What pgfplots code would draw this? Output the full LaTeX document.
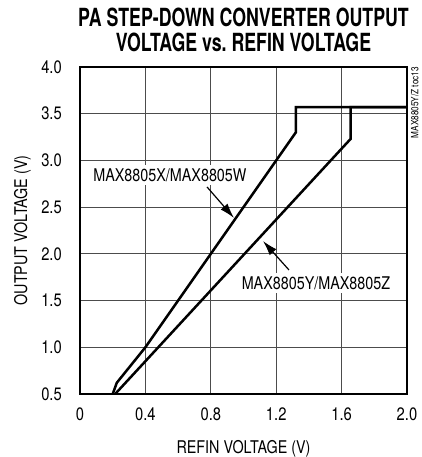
\documentclass[border=0pt]{standalone}
\usepackage{fontspec}
\setmainfont{TeX Gyre Heros}[FakeStretch=0.82]
\newfontfamily\titlefont{TeX Gyre Heros}[FakeStretch=0.71]
\usepackage{pgfplots}
\pgfplotsset{compat=1.18}
\usetikzlibrary{arrows.meta}
\begin{document}
\begin{tikzpicture}
\path[use as bounding box] (-80pt,-63pt) rectangle (342pt,394pt);
\begin{axis}[
  at={(0pt,0pt)}, anchor=south west,
  scale only axis, width=327pt, height=327pt,
  xmin=0, xmax=2, ymin=0.5, ymax=4,
  xtick={0,0.4,0.8,1.2,1.6,2.0},
  xticklabels={0,0.4,0.8,1.2,1.6,2.0},
  ytick={0.5,1.0,1.5,2.0,2.5,3.0,3.5,4.0},
  yticklabels={0.5,1.0,1.5,2.0,2.5,3.0,3.5,4.0},
  grid=major, major grid style={line width=0.8pt, black!70},
  major tick length=0pt,
  axis line style={line width=2.4pt},
  tick label style={font=\fontsize{18}{20}\selectfont},
  xticklabel style={anchor=north, inner sep=0pt, yshift=-14pt},
  yticklabel style={anchor=east, inner sep=0pt, xshift=-18pt},
  label style={font=\fontsize{17.5}{20}\selectfont},
  xlabel={REFIN VOLTAGE (V)},
  xlabel style={at={(axis description cs:0.5,-0.1805)}, anchor=base, inner sep=0pt},
  ylabel={OUTPUT VOLTAGE (V)},
  ylabel style={at={(axis description cs:-0.162,0.5)}, anchor=base, inner sep=0pt},
  title={PA STEP-DOWN CONVERTER OUTPUT\\VOLTAGE vs.\ REFIN VOLTAGE},
  title style={at={(axis description cs:0.5,1.027)}, anchor=south, inner sep=0pt, align=center, font=\titlefont\bfseries\fontsize{25}{25}\selectfont},
  clip=false,
  /pgf/number format/assume math mode=true,
]
\addplot[line width=2.5pt, black, line join=miter] coordinates {
  (0.2,0.5) (0.225,0.62) (0.4,1.0) (1.32,3.3) (1.32,3.57) (2.0,3.57)};
\addplot[line width=2.5pt, black, line join=miter] coordinates {
  (0.215,0.5) (1.655,3.23) (1.655,3.57) (2.0,3.57)};
\node[fill=white, inner sep=3pt, font=\fontsize{17.5}{20}\selectfont] at (axis cs:0.55,2.844) {MAX8805X/MAX8805W};
\node[fill=white, inner sep=3pt, font=\fontsize{17.5}{20}\selectfont] at (axis cs:1.443,1.688) {MAX8805Y/MAX8805Z};
\draw[line width=1.2pt, -{Latex[length=15pt,width=9pt]}] (axis cs:0.777,2.716) -- (axis cs:0.942,2.384);
\draw[line width=1.2pt, -{Latex[length=15pt,width=9pt]}] (axis cs:1.278,1.828) -- (axis cs:1.119,2.138);
\node[rotate=90, anchor=north east, inner sep=0pt, font=\fontsize{10}{12}\selectfont] at (rel axis cs:1.012,1) {MAX8805Y/Z toc13};
\end{axis}
\end{tikzpicture}
\end{document}
